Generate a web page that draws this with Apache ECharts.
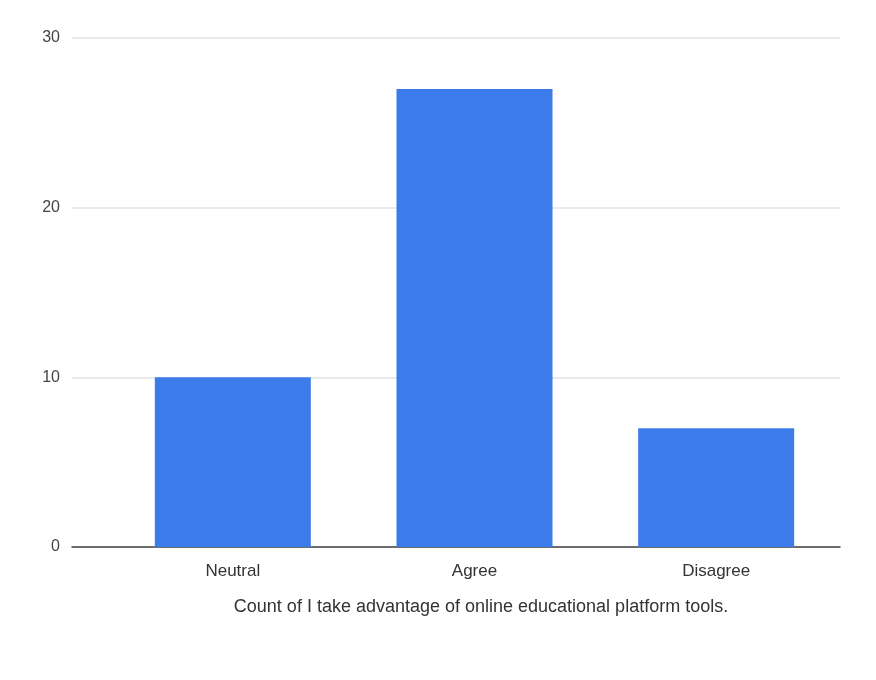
<!DOCTYPE html>
<html>
<head>
<meta charset="utf-8">
<script src="https://cdn.jsdelivr.net/npm/echarts@6/dist/echarts.min.js"></script>
<style>
html,body{margin:0;padding:0;background:#fff;}
#chart{width:876px;height:680px;}
</style>
</head>
<body>
<div id="chart"></div>
<script>
const categories = ['Neutral', 'Agree', 'Disagree'];
const counts = [10, 27, 7];
const yTicks = [0, 10, 20, 30];
const axisTitle = 'Count of I take advantage of online educational platform tools.';

const chart = echarts.init(document.getElementById('chart'));
const font = 'Liberation Sans, Arial, sans-serif';
chart.setOption({
  backgroundColor: '#ffffff',
  animation: false,
  grid: [
    {left: 72, right: 36, top: 38, bottom: 133},
    {left: 112, right: 39, top: 38, bottom: 133}
  ],
  xAxis: [
    {type: 'category', gridIndex: 0, data: categories, axisLine: {show: true, lineStyle: {color: '#444', width: 1.5}},
     axisTick: {show: false}, axisLabel: {show: false}},
    {type: 'category', gridIndex: 1, data: categories, axisLine: {show: false}, axisTick: {show: false},
     axisLabel: {color: '#333', fontSize: 17, fontFamily: font, margin: 16}}
  ],
  yAxis: [
    {type: 'value', gridIndex: 0, min: yTicks[0], max: yTicks[yTicks.length - 1], interval: 10,
     axisLine: {show: false}, axisTick: {show: false},
     axisLabel: {color: '#444', fontSize: 16, fontFamily: font, margin: 12},
     splitLine: {lineStyle: {color: '#e2e2e2', width: 1.5}}},
    {type: 'value', gridIndex: 1, min: yTicks[0], max: yTicks[yTicks.length - 1], interval: 10, show: false,
     splitLine: {show: false}}
  ],
  series: [{
    type: 'bar', xAxisIndex: 1, yAxisIndex: 1, data: counts, barWidth: 156,
    itemStyle: {color: '#3b7cea'}
  }],
  graphic: [{
    type: 'text', x: 481, y: 607,
    style: {text: axisTitle, fill: '#333', font: '18px ' + font, textAlign: 'center', textVerticalAlign: 'middle'}
  }]
});
</script>
</body>
</html>
